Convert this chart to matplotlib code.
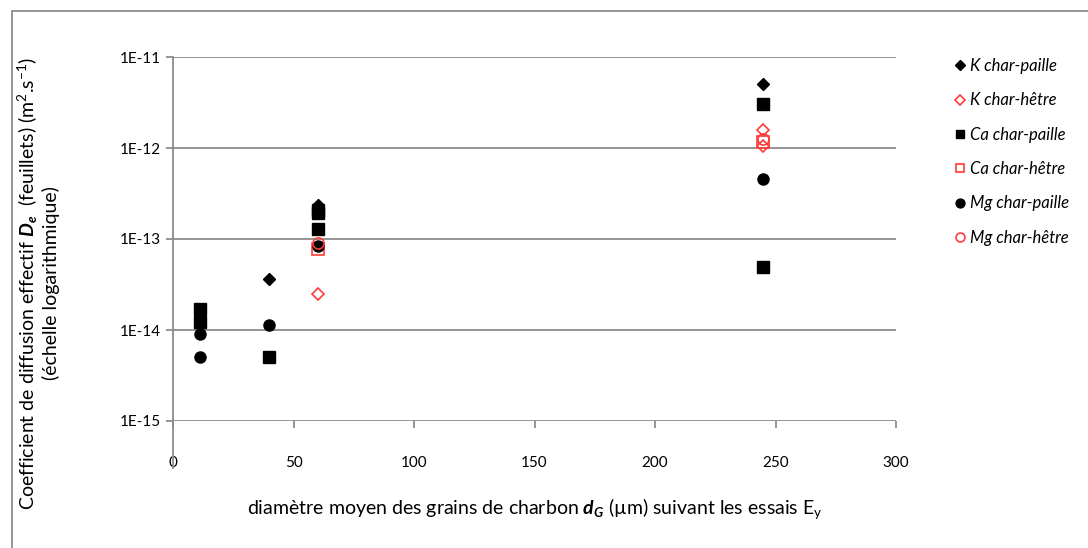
import matplotlib.pyplot as plt
from matplotlib.lines import Line2D
from matplotlib.patches import Rectangle

plt.rcParams['font.family'] = ['Lato', 'DejaVu Sans']
plt.rcParams['mathtext.fontset'] = 'custom'
plt.rcParams['mathtext.rm'] = 'Lato'
plt.rcParams['mathtext.it'] = 'Lato:italic'
plt.rcParams['mathtext.bf'] = 'Lato:bold:italic'

# diffusion coefficients (m2/s) vs mean grain diameter (um)
k_paille_x = [11, 40, 60, 245]
k_paille_y = [1.25e-14, 3.6e-14, 2.35e-13, 5.0e-12]
k_hetre_x = [60, 245, 245]
k_hetre_y = [2.5e-14, 1.58e-12, 1.05e-12]
ca_paille_x = [11, 11, 40, 60, 60, 60, 245, 245]
ca_paille_y = [1.7e-14, 1.22e-14, 5.0e-15, 2.1e-13, 1.95e-13, 1.29e-13, 3.05e-12, 4.9e-14]
ca_hetre_x = [60, 245]
ca_hetre_y = [7.8e-14, 1.15e-12]
mg_paille_x = [11, 11, 40, 60, 245]
mg_paille_y = [9.0e-15, 5.0e-15, 1.13e-14, 8.4e-14, 4.6e-13]
mg_hetre_x = [60, 245]
mg_hetre_y = [9.1e-14, 1.25e-12]

x_ticks = [0, 50, 100, 150, 200, 250, 300]
y_ticks = [1e-15, 1e-14, 1e-13, 1e-12, 1e-11]
y_labels = ['1E-15', '1E-14', '1E-13', '1E-12', '1E-11']

fig = plt.figure(figsize=(10.88, 5.48), dpi=100)
ax = fig.add_axes([173 / 1088, 1 - 421 / 548, (896 - 173) / 1088, (421 - 57) / 548])

red = '#ff3b3b'
ax.plot(k_paille_x, k_paille_y, 'D', ms=6, color='black', ls='none', label='K char-paille')
ax.plot(k_hetre_x, k_hetre_y, 'D', ms=6, mfc='none', mec=red, mew=1.2, ls='none', label='K char-hêtre')
ax.plot(ca_paille_x, ca_paille_y, 's', ms=8, color='black', ls='none', label='Ca char-paille')
ax.plot(ca_hetre_x, ca_hetre_y, 's', ms=8, mfc='none', mec=red, mew=1.2, ls='none', label='Ca char-hêtre')
ax.plot(mg_paille_x, mg_paille_y, 'o', ms=8, color='black', ls='none', label='Mg char-paille')
ax.plot(mg_hetre_x, mg_hetre_y, 'o', ms=8, mfc='none', mec=red, mew=1.2, ls='none', label='Mg char-hêtre')

ax.set_yscale('log')
ax.set_xlim(0, 300)
ax.set_ylim(1e-15, 1e-11)
ax.set_yticks(y_ticks)
ax.set_yticklabels(y_labels)
ax.minorticks_off()
ax.set_xticks(x_ticks)
ax.grid(axis='y', color='#8c8c8c', lw=1.3)
ax.set_axisbelow(True)

for s in ['top', 'right', 'bottom']:
    ax.spines[s].set_visible(False)
ax.spines['left'].set_color('#8c8c8c')
ax.spines['left'].set_linewidth(1.3)
# vertical axis runs below the x-axis line
ax.add_line(Line2D([0, 0], [-0.13, 0], transform=ax.transAxes, color='#8c8c8c',
                   lw=1.3, clip_on=False))
ax.tick_params(axis='y', length=5, color='#8c8c8c', width=1.3, labelsize=11, pad=4)
ax.tick_params(axis='x', length=5, color='#8c8c8c', width=1.3, labelsize=11, pad=20)

ax.set_xlabel(r'diamètre moyen des grains de charbon $\mathbf{d}_{\mathbf{G}}$ (µm) suivant les essais E$_\mathrm{y}$',
              fontsize=14, labelpad=19)
fig.text(38 / 1088, 1 - 283 / 548,
         'Coefficient de diffusion effectif $\\mathbf{D}_{\\mathbf{e}}$  (feuillets) (m$^2$.s$^{\\mathrm{-1}}$)\n(échelle logarithmique)',
         rotation=90, ha='center', va='center', fontsize=14, multialignment='center',
         linespacing=1.15)

leg = fig.legend(loc='upper left', bbox_to_anchor=(940 / 1088, 1 - 43 / 548), frameon=False,
                 prop={'style': 'italic', 'size': 12}, labelspacing=1.1,
                 handlelength=0.6, handletextpad=0.3, markerscale=0.8)

# chart border
fig.add_artist(Rectangle((12 / 1088, -0.01), 1.02, 1 - 11 / 548 + 0.01, transform=fig.transFigure,
                         fill=False, edgecolor='#8c8c8c', lw=1.3))

fig.savefig('out.png', dpi=100)
